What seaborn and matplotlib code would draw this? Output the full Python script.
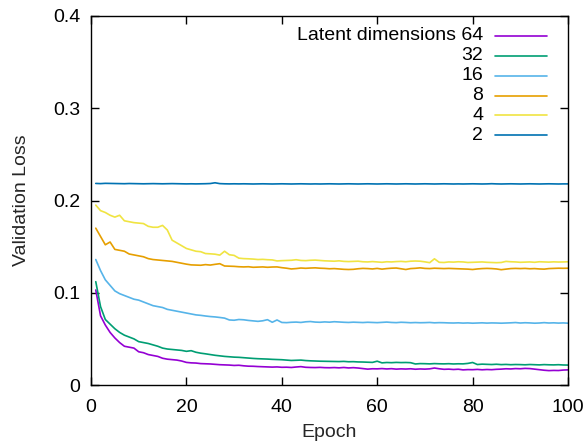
import numpy as np
import pandas as pd
import matplotlib
matplotlib.use("Agg")
import matplotlib.pyplot as plt
import seaborn as sns

epochs = list(range(1, 101))

loss_64 = [0.103, 0.075, 0.065, 0.057, 0.051, 0.046, 0.042, 0.041, 0.040, 0.036,
           0.035, 0.033, 0.032, 0.031, 0.029, 0.028, 0.0275, 0.027, 0.026, 0.0245,
           0.024, 0.0238, 0.0232, 0.023, 0.0228, 0.0224, 0.022, 0.0218, 0.0216, 0.0212,
           0.0214, 0.0208, 0.0204, 0.0203, 0.0200, 0.0198, 0.0196, 0.0194, 0.0196, 0.0192,
           0.0193, 0.0190, 0.0195, 0.0199, 0.0192, 0.0190, 0.0189, 0.0191, 0.0188, 0.0187,
           0.0189, 0.0186, 0.0190, 0.0185, 0.0188, 0.0184, 0.0178, 0.0172, 0.0176, 0.0175,
           0.0178, 0.0174, 0.0177, 0.0172, 0.0175, 0.0173, 0.0176, 0.0171, 0.0174, 0.0172,
           0.0175, 0.0184, 0.0176, 0.0170, 0.0172, 0.0168, 0.0171, 0.0164, 0.0167, 0.0166,
           0.0169, 0.0165, 0.0168, 0.0166, 0.0170, 0.0172, 0.0176, 0.0174, 0.0178, 0.0176,
           0.0180, 0.0178, 0.0172, 0.0166, 0.0160, 0.0156, 0.0158, 0.0157, 0.0162, 0.0164]

loss_32 = [0.112, 0.085, 0.071, 0.066, 0.061, 0.057, 0.054, 0.052, 0.050, 0.047,
           0.046, 0.045, 0.0435, 0.042, 0.040, 0.039, 0.0385, 0.038, 0.0375, 0.0365,
           0.0372, 0.0355, 0.0345, 0.0338, 0.0330, 0.0322, 0.0316, 0.0310, 0.0306, 0.0302,
           0.0300, 0.0296, 0.0292, 0.0288, 0.0285, 0.0283, 0.0281, 0.0278, 0.0276, 0.0274,
           0.0270, 0.0266, 0.0268, 0.0270, 0.0265, 0.0262, 0.0260, 0.0258, 0.0257, 0.0256,
           0.0255, 0.0254, 0.0256, 0.0252, 0.0253, 0.0250, 0.0249, 0.0247, 0.0245, 0.0258,
           0.0240, 0.0244, 0.0242, 0.0245, 0.0243, 0.0244, 0.0242, 0.0228, 0.0232, 0.0231,
           0.0229, 0.0232, 0.0230, 0.0229, 0.0231, 0.0228, 0.0230, 0.0229, 0.0234, 0.0244,
           0.0222, 0.0226, 0.0224, 0.0222, 0.0225, 0.0221, 0.0223, 0.0220, 0.0222, 0.0221,
           0.0219, 0.0222, 0.0220, 0.0218, 0.0221, 0.0219, 0.0218, 0.0220, 0.0217, 0.0216]

loss_16 = [0.136, 0.124, 0.114, 0.108, 0.102, 0.099, 0.097, 0.095, 0.093, 0.092,
           0.090, 0.088, 0.086, 0.085, 0.084, 0.082, 0.081, 0.080, 0.079, 0.078,
           0.0770, 0.0760, 0.0755, 0.0748, 0.0742, 0.0738, 0.0732, 0.0725, 0.0705, 0.0702,
           0.0710, 0.0707, 0.0700, 0.0695, 0.0690, 0.0696, 0.0708, 0.0680, 0.0705, 0.0678,
           0.0676, 0.0680, 0.0682, 0.0678, 0.0685, 0.0688, 0.0682, 0.0680, 0.0684, 0.0681,
           0.0686, 0.0683, 0.0680, 0.0678, 0.0681, 0.0679, 0.0677, 0.0680, 0.0678, 0.0676,
           0.0679, 0.0682, 0.0678, 0.0676, 0.0680, 0.0678, 0.0675, 0.0677, 0.0675, 0.0676,
           0.0678, 0.0674, 0.0676, 0.0675, 0.0673, 0.0672, 0.0674, 0.0671, 0.0673, 0.0670,
           0.0672, 0.0674, 0.0671, 0.0673, 0.0672, 0.0670, 0.0672, 0.0674, 0.0677, 0.0672,
           0.0675, 0.0673, 0.0670, 0.0672, 0.0676, 0.0672, 0.0674, 0.0671, 0.0673, 0.0670]

loss_8 = [0.170, 0.161, 0.152, 0.155, 0.147, 0.146, 0.145, 0.142, 0.141, 0.140,
          0.139, 0.137, 0.136, 0.1355, 0.135, 0.1345, 0.134, 0.133, 0.132, 0.131,
          0.1302, 0.1300, 0.1298, 0.1305, 0.1300, 0.1308, 0.1315, 0.1290, 0.1288, 0.1286,
          0.1282, 0.1280, 0.1282, 0.1276, 0.1278, 0.1280, 0.1276, 0.1279, 0.1280, 0.1272,
          0.1266, 0.1258, 0.1262, 0.1268, 0.1265, 0.1268, 0.1270, 0.1266, 0.1264, 0.1260,
          0.1262, 0.1258, 0.1254, 0.1252, 0.1254, 0.1260, 0.1264, 0.1262, 0.1258, 0.1264,
          0.1256, 0.1262, 0.1266, 0.1268, 0.1260, 0.1252, 0.1262, 0.1265, 0.1270, 0.1264,
          0.1262, 0.1266, 0.1264, 0.1262, 0.1264, 0.1262, 0.1260, 0.1258, 0.1256, 0.1252,
          0.1258, 0.1262, 0.1264, 0.1262, 0.1258, 0.1250, 0.1256, 0.1262, 0.1264, 0.1262,
          0.1264, 0.1260, 0.1262, 0.1258, 0.1256, 0.1262, 0.1264, 0.1266, 0.1265, 0.1266]

loss_4 = [0.195, 0.189, 0.187, 0.184, 0.182, 0.184, 0.178, 0.177, 0.176, 0.1755,
          0.175, 0.172, 0.171, 0.171, 0.173, 0.168, 0.157, 0.154, 0.151, 0.148,
          0.1465, 0.145, 0.1445, 0.1425, 0.1422, 0.1418, 0.1408, 0.1450, 0.1412, 0.1405,
          0.1375, 0.1370, 0.1368, 0.1365, 0.1360, 0.1362, 0.1358, 0.1356, 0.1345, 0.1348,
          0.1350, 0.1352, 0.1358, 0.1350, 0.1348, 0.1352, 0.1354, 0.1350, 0.1346, 0.1344,
          0.1342, 0.1346, 0.1340, 0.1338, 0.1340, 0.1342, 0.1336, 0.1334, 0.1338, 0.1334,
          0.1330, 0.1336, 0.1334, 0.1338, 0.1340, 0.1336, 0.1342, 0.1344, 0.1342, 0.1335,
          0.1326, 0.1368, 0.1330, 0.1328, 0.1334, 0.1332, 0.1336, 0.1334, 0.1328, 0.1330,
          0.1332, 0.1334, 0.1330, 0.1328, 0.1326, 0.1328, 0.1340, 0.1336, 0.1334, 0.1330,
          0.1332, 0.1334, 0.1330, 0.1336, 0.1334, 0.1332, 0.1335, 0.1333, 0.1334, 0.1336]

loss_2 = [0.2185, 0.2183, 0.2186, 0.2185, 0.2184, 0.2183, 0.2182, 0.2184, 0.2183, 0.2182,
          0.2181, 0.2182, 0.2183, 0.2182, 0.2181, 0.2182, 0.2183, 0.2182, 0.2181, 0.2180,
          0.2181, 0.2180, 0.2181, 0.2182, 0.2184, 0.2192, 0.2183, 0.2181, 0.2180, 0.2181,
          0.2180, 0.2181, 0.2180, 0.2179, 0.2180, 0.2181, 0.2180, 0.2179, 0.2180, 0.2181,
          0.2180, 0.2179, 0.2180, 0.2181, 0.2180, 0.2179, 0.2180, 0.2179, 0.2180, 0.2181,
          0.2180, 0.2179, 0.2180, 0.2181, 0.2180, 0.2179, 0.2180, 0.2181, 0.2180, 0.2179,
          0.2180, 0.2181, 0.2180, 0.2179, 0.2180, 0.2181, 0.2180, 0.2179, 0.2180, 0.2181,
          0.2180, 0.2179, 0.2180, 0.2181, 0.2180, 0.2179, 0.2180, 0.2179, 0.2180, 0.2181,
          0.2180, 0.2179, 0.2180, 0.2182, 0.2180, 0.2179, 0.2180, 0.2181, 0.2180, 0.2179,
          0.2180, 0.2181, 0.2180, 0.2179, 0.2180, 0.2181, 0.2180, 0.2179, 0.2180, 0.2180]

dims = ["64", "32", "16", "8", "4", "2"]
series = [loss_64, loss_32, loss_16, loss_8, loss_4, loss_2]
colors = ["#9400d3", "#009e73", "#56b4e9", "#e69f00", "#f0e442", "#0072b2"]
legend_labels = ["Latent dimensions 64", "32", "16", "8", "4", "2"]

frames = []
for d, s in zip(dims, series):
    frames.append(pd.DataFrame({"Epoch": epochs, "Loss": s, "dim": d}))
df = pd.concat(frames, ignore_index=True)

sns.set_style("ticks")
plt.rcParams["font.family"] = ["Liberation Sans", "DejaVu Sans"]

FS = 14
fig = plt.figure(figsize=(5.88, 4.46), dpi=100)
ax = fig.add_axes([91/588, 61/446, (568-91)/588, (385-16)/446])

sns.lineplot(data=df, x="Epoch", y="Loss", hue="dim", hue_order=dims,
             palette=dict(zip(dims, colors)), linewidth=1.2, ax=ax, legend=False)

ax.set_xlim(0, 100)
ax.set_ylim(0, 0.4)
ax.set_xticks([0, 20, 40, 60, 80, 100])
ax.set_yticks([0, 0.1, 0.2, 0.3, 0.4])
ax.set_yticklabels(["0", "0.1", "0.2", "0.3", "0.4"])
ax.tick_params(direction="in", top=True, right=True, length=6, width=1,
               labelsize=FS, colors="black")
ax.tick_params(axis="x", pad=10)
ax.tick_params(axis="y", pad=7.5)
for sp in ax.spines.values():
    sp.set_visible(True)
    sp.set_linewidth(1.0)
    sp.set_color("black")
ax.set_xlabel("Epoch", fontsize=FS, labelpad=6)
ax.set_ylabel("Validation Loss", fontsize=FS, labelpad=17)

# key (gnuplot style: right-aligned text, sample line on the right)
row_y = [0.946, 0.892, 0.838, 0.784, 0.731, 0.677]
for lab, c, yy in zip(legend_labels, colors, row_y):
    ax.text(0.822, yy, lab, transform=ax.transAxes, ha="right", va="center",
            fontsize=FS, color="black")
    ax.plot([0.847, 0.956], [yy, yy], transform=ax.transAxes, color=c,
            linewidth=1.2, clip_on=False)

fig.savefig("out.png", dpi=100)
